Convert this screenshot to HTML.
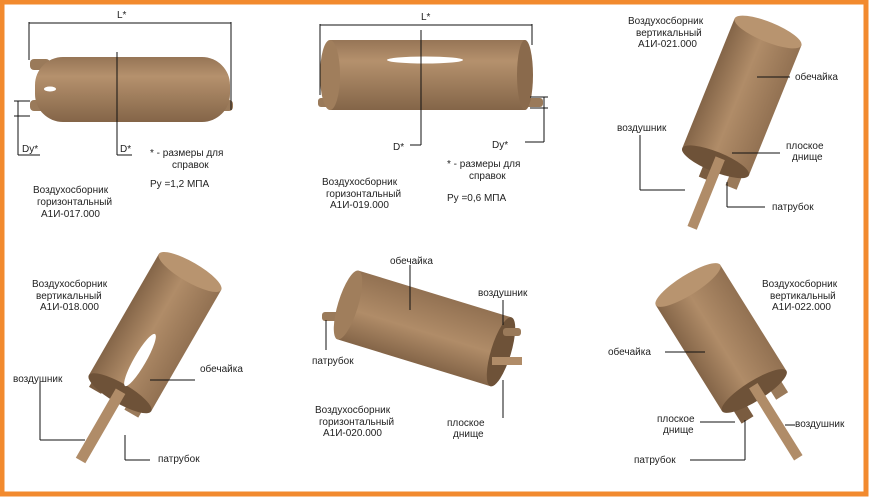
<!DOCTYPE html>
<html><head><meta charset="utf-8"><style>
body{margin:0;background:#fff}
svg{display:block}
text{font-family:"Liberation Sans",sans-serif;font-size:10px;fill:#222}
</style></head><body>
<svg width="869" height="497" viewBox="0 0 869 497" xmlns="http://www.w3.org/2000/svg">
<defs>
<linearGradient id="gh" x1="0" y1="0" x2="0" y2="1">
<stop offset="0" stop-color="#967556"/><stop offset="0.3" stop-color="#b5916d"/><stop offset="1" stop-color="#846548"/></linearGradient>
<linearGradient id="gv" x1="0" y1="0" x2="1" y2="0">
<stop offset="0" stop-color="#846548"/><stop offset="0.45" stop-color="#b08c68"/><stop offset="1" stop-color="#927152"/></linearGradient>
</defs>
<rect x="2" y="2" width="864" height="492" fill="none" stroke="#f28a2e" stroke-width="5"/>

<!-- Cyl 1 -->
<rect x="30" y="59" width="20" height="11" rx="4" fill="#9a7a5a"/>
<rect x="30" y="100" width="20" height="11" rx="4" fill="#9a7a5a"/>
<rect x="215" y="100" width="18" height="11" rx="4" fill="#9a7a5a"/>
<rect x="35" y="57" width="195" height="65" rx="28" fill="url(#gh)"/>
<ellipse cx="50" cy="89" rx="6" ry="2.5" fill="#fff"/>
<g stroke="#111" stroke-width="1" fill="none">
<line x1="29" y1="23" x2="231" y2="23"/><line x1="29" y1="22" x2="29" y2="60"/><line x1="231" y1="22" x2="231" y2="110"/>
<line x1="117" y1="52" x2="117" y2="155"/><line x1="117" y1="155" x2="132" y2="155"/>
<line x1="14" y1="101" x2="30" y2="101"/><line x1="14" y1="116" x2="30" y2="116"/><line x1="18" y1="101" x2="18" y2="155"/><line x1="18" y1="155" x2="40" y2="155"/>
</g>
<text x="117" y="18" font-size="12">L*</text>
<text x="120" y="152" font-size="12">D*</text>
<text x="22" y="152" font-size="12">Dy*</text>
<text x="150" y="156">* - размеры для</text><text x="172" y="168">справок</text>
<text x="150" y="187">Py =1,2 МПА</text>
<text x="33" y="193">Воздухосборник</text><text x="37" y="205">горизонтальный</text><text x="41" y="217">А1И-017.000</text>

<!-- Cyl 2 -->
<rect x="318" y="98" width="16" height="9" rx="3" fill="#9a7a5a"/>
<rect x="515" y="98" width="28" height="9" rx="3" fill="#9a7a5a"/>
<rect x="330" y="40" width="195" height="70" fill="url(#gh)"/>
<ellipse cx="525" cy="75" rx="8" ry="35" fill="#8a6a4c"/>
<ellipse cx="330" cy="75" rx="10" ry="35" fill="#a07e5c"/>
<ellipse cx="425" cy="60" rx="38" ry="3.5" fill="#fff"/>
<g stroke="#111" stroke-width="1" fill="none">
<line x1="320" y1="25" x2="532" y2="25"/><line x1="320" y1="24" x2="320" y2="95"/><line x1="532" y1="24" x2="532" y2="45"/>
<line x1="421" y1="30" x2="421" y2="145"/><line x1="410" y1="145" x2="421" y2="145"/>
<line x1="530" y1="97" x2="548" y2="97"/><line x1="530" y1="108" x2="548" y2="108"/><line x1="544" y1="97" x2="544" y2="142"/><line x1="525" y1="142" x2="544" y2="142"/>
</g>
<text x="421" y="20" font-size="12">L*</text>
<text x="393" y="150" font-size="12">D*</text>
<text x="492" y="148" font-size="12">Dy*</text>
<text x="447" y="167">* - размеры для</text><text x="469" y="179">справок</text>
<text x="447" y="201">Py =0,6 МПА</text>
<text x="322" y="185">Воздухосборник</text><text x="326" y="197">горизонтальный</text><text x="330" y="208">А1И-019.000</text>

<!-- Cyl 3 -->
<g transform="translate(768,32) rotate(22)">
<rect x="-10" y="130" width="14" height="30" fill="#7a5c40"/>
<rect x="18" y="130" width="12" height="28" fill="#9a7a5a"/>
<rect x="-36" y="0" width="72" height="140" fill="url(#gv)"/>
<ellipse cx="0" cy="0" rx="36" ry="10" fill="#b8946f"/>
<ellipse cx="0" cy="140" rx="36" ry="10" fill="#6e5238"/>
<rect x="-2" y="135" width="10" height="75" fill="#b08c68"/>
</g>
<g stroke="#111" fill="none"><line x1="757" y1="77" x2="790" y2="77"/><line x1="732" y1="153" x2="780" y2="153"/><line x1="640" y1="135" x2="640" y2="190"/><line x1="640" y1="190" x2="685" y2="190"/><line x1="727" y1="182" x2="727" y2="207"/><line x1="727" y1="207" x2="765" y2="207"/></g>
<text x="628" y="24">Воздухосборник</text><text x="636" y="36">вертикальный</text><text x="638" y="47">А1И-021.000</text>
<text x="795" y="80">обечайка</text><text x="617" y="131">воздушник</text>
<text x="786" y="149">плоское</text><text x="792" y="160">днище</text><text x="772" y="210">патрубок</text>

<!-- Cyl 4 -->
<g transform="translate(190,272) rotate(30)">
<rect x="-30" y="130" width="14" height="20" fill="#7a5c40"/>
<rect x="12" y="130" width="16" height="22" fill="#9a7a5a"/>
<rect x="-36" y="0" width="72" height="140" fill="url(#gv)"/>
<ellipse cx="0" cy="0" rx="36" ry="10" fill="#b8946f"/>
<ellipse cx="0" cy="140" rx="36" ry="10" fill="#6e5238"/>
<rect x="-6" y="138" width="11" height="80" fill="#b08c68"/>
</g>
<ellipse cx="140" cy="360" rx="6" ry="30" fill="#fff" transform="rotate(30 140 360)"/>
<g stroke="#111" fill="none"><line x1="150" y1="380" x2="195" y2="380"/><line x1="40" y1="382" x2="40" y2="440"/><line x1="40" y1="440" x2="85" y2="440"/><line x1="125" y1="435" x2="125" y2="460"/><line x1="125" y1="460" x2="150" y2="460"/></g>
<text x="32" y="287">Воздухосборник</text><text x="36" y="299">вертикальный</text><text x="40" y="310">А1И-018.000</text>
<text x="200" y="372">обечайка</text><text x="13" y="382">воздушник</text><text x="158" y="462">патрубок</text>

<!-- Cyl 5 -->
<rect x="322" y="312" width="18" height="9" rx="3" fill="#9a7a5a"/>
<g transform="translate(348,305) rotate(-73)">
<rect x="-36" y="0" width="72" height="160" fill="url(#gv)"/>
<ellipse cx="0" cy="0" rx="36" ry="10" fill="#a07e5c"/>
<ellipse cx="0" cy="160" rx="36" ry="10" fill="#6e5238"/>
</g>
<rect x="503" y="328" width="18" height="8" rx="3" fill="#9a7a5a"/>
<rect x="492" y="357" width="30" height="8" fill="#b08c68"/>
<g stroke="#111" fill="none"><line x1="410" y1="265" x2="410" y2="310"/><line x1="503" y1="300" x2="503" y2="325"/><line x1="326" y1="320" x2="326" y2="350"/><line x1="503" y1="380" x2="503" y2="418"/></g>
<text x="390" y="264">обечайка</text><text x="478" y="296">воздушник</text><text x="312" y="364">патрубок</text>
<text x="447" y="426">плоское</text><text x="453" y="437">днище</text>
<text x="315" y="413">Воздухосборник</text><text x="319" y="425">горизонтальный</text><text x="323" y="436">А1И-020.000</text>

<!-- Cyl 6 -->
<g transform="translate(688,285) rotate(-32)">
<rect x="-28" y="118" width="14" height="28" fill="#7a5c40"/>
<rect x="14" y="118" width="14" height="26" fill="#9a7a5a"/>
<rect x="-38" y="0" width="76" height="125" fill="url(#gv)"/>
<ellipse cx="0" cy="0" rx="38" ry="10" fill="#b8946f"/>
<ellipse cx="0" cy="125" rx="38" ry="10" fill="#6e5238"/>
<rect x="-3" y="120" width="10" height="85" fill="#b08c68"/>
</g>
<g stroke="#111" fill="none"><line x1="665" y1="352" x2="705" y2="352"/><line x1="700" y1="422" x2="735" y2="422"/><line x1="745" y1="420" x2="745" y2="460"/><line x1="690" y1="460" x2="745" y2="460"/><line x1="785" y1="425" x2="795" y2="425"/></g>
<text x="762" y="287">Воздухосборник</text><text x="770" y="299">вертикальный</text><text x="772" y="310">А1И-022.000</text>
<text x="608" y="355">обечайка</text><text x="657" y="422">плоское</text><text x="663" y="433">днище</text>
<text x="795" y="427">воздушник</text><text x="634" y="463">патрубок</text>
</svg>
</body></html>
